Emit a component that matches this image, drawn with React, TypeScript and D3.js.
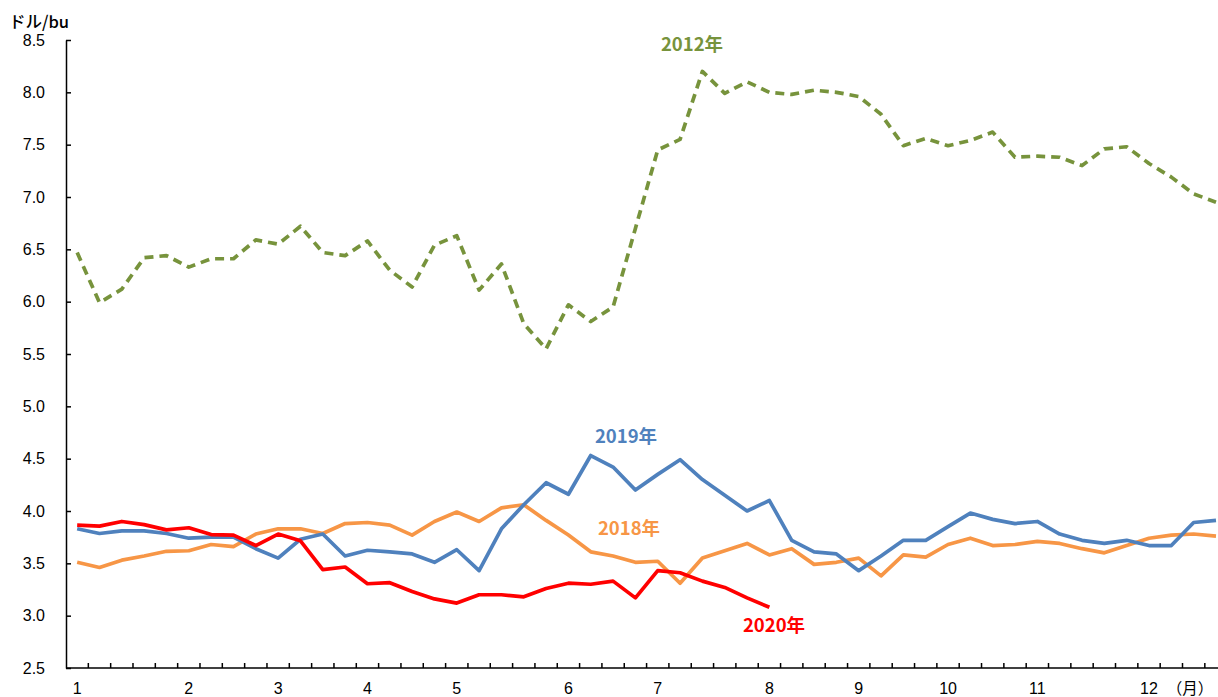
import React, { useRef, useEffect } from 'react'
import * as d3 from 'd3'

// weekly points, Jan..Dec (52 weeks)
const weeks = d3.range(52)

const monthStartWeeks = [0, 5, 9, 13, 17, 22, 26, 31, 35, 39, 43, 48]
const monthLabels = ['1', '2', '3', '4', '5', '6', '7', '8', '9', '10', '11', '12']

const yTicks = [2.5, 3.0, 3.5, 4.0, 4.5, 5.0, 5.5, 6.0, 6.5, 7.0, 7.5, 8.0, 8.5]

const y2012 = [
  6.47, 5.99, 6.12, 6.42, 6.44, 6.33, 6.41, 6.41, 6.59, 6.55, 6.72, 6.47, 6.44,
  6.58, 6.3, 6.14, 6.54, 6.63, 6.11, 6.36, 5.79, 5.55, 5.97, 5.81, 5.95, 6.7,
  7.45, 7.55, 8.2, 7.99, 8.1, 8.0, 7.98, 8.02, 8.0, 7.96, 7.79, 7.49, 7.56, 7.49,
  7.54, 7.62, 7.38, 7.39, 7.38, 7.3, 7.46, 7.48, 7.32, 7.19, 7.03, 6.95,
]

const y2018 = [
  3.51, 3.46, 3.53, 3.57, 3.615, 3.62, 3.68, 3.66, 3.78, 3.83, 3.83, 3.785, 3.88,
  3.89, 3.865, 3.77, 3.9, 3.99, 3.9, 4.03, 4.06, 3.91, 3.77, 3.61, 3.57, 3.51,
  3.52, 3.31, 3.55, 3.62, 3.69, 3.58, 3.64, 3.49, 3.51, 3.55, 3.38, 3.58, 3.56,
  3.68, 3.74, 3.67, 3.68, 3.71, 3.69, 3.64, 3.6, 3.67, 3.74, 3.77, 3.78, 3.76,
]

const y2019 = [
  3.83, 3.785, 3.81, 3.81, 3.785, 3.74, 3.75, 3.75, 3.64, 3.55, 3.73, 3.78, 3.57,
  3.625, 3.61, 3.59, 3.51, 3.63, 3.43, 3.83, 4.06, 4.27, 4.16, 4.53, 4.42, 4.2,
  4.35, 4.49, 4.3, 4.15, 4.0, 4.1, 3.72, 3.61, 3.59, 3.43, 3.57, 3.72, 3.72, 3.85,
  3.98, 3.92, 3.88, 3.9, 3.78, 3.72, 3.69, 3.72, 3.67, 3.67, 3.89, 3.91,
]

const y2020 = [
  3.865, 3.855, 3.9, 3.87, 3.82, 3.84, 3.775, 3.77, 3.67, 3.78, 3.715, 3.44, 3.465,
  3.305, 3.315, 3.23, 3.16, 3.12, 3.2, 3.2, 3.18, 3.26, 3.31, 3.3, 3.33, 3.17,
  3.43, 3.41, 3.33, 3.27, 3.17, 3.08,
]

const seriesList = [
  { name: '2012年', values: y2012, color: '#77933C', dash: '9 6', lx: 692, ly: 51 },
  { name: '2018年', values: y2018, color: '#F79646', dash: null, lx: 629, ly: 535 },
  { name: '2019年', values: y2019, color: '#4F81BD', dash: null, lx: 626, ly: 443 },
  { name: '2020年', values: y2020, color: '#FF0000', dash: null, lx: 774, ly: 632 },
]

const W = 1218
const H = 697
const left = 66
const top = 40
const bottom = 668
const step = 22.33

const App = () => {
  const svgRef = useRef(null)

  useEffect(() => {
    const svg = d3.select(svgRef.current)
    svg.selectAll('*').remove()

    const x = d3
      .scaleBand()
      .domain(weeks.map(String))
      .range([left, left + weeks.length * step])
      .padding(0)

    const y = d3.scaleLinear().domain([2.5, 8.5]).range([bottom, top])
    const cx = (i) => x(String(i)) + x.bandwidth() / 2

    // lines
    const line = d3
      .line()
      .x((d, i) => cx(i))
      .y((d) => y(d))

    seriesList.forEach((s) => {
      svg
        .append('path')
        .datum(s.values)
        .attr('d', line)
        .attr('fill', 'none')
        .attr('stroke', s.color)
        .attr('stroke-width', 3.7)
        .attr('stroke-linejoin', 'round')
        .attr('stroke-dasharray', s.dash)
    })

    // y axis
    const yAxis = svg
      .append('g')
      .attr('transform', `translate(${left},0)`)
      .call(
        d3
          .axisLeft(y)
          .tickValues(yTicks)
          .tickFormat(d3.format('.1f'))
          .tickSizeInner(-5)
          .tickSizeOuter(0)
          .tickPadding(21)
      )
    yAxis.select('.domain').attr('stroke', '#000').attr('stroke-width', 1.5)
    yAxis.selectAll('line').attr('stroke', '#000').attr('stroke-width', 1.5)
    yAxis
      .selectAll('text')
      .attr('font-family', '"Liberation Sans", Arial, sans-serif')
      .attr('font-size', 16)
      .attr('fill', '#000')

    // x axis
    const xAxisG = svg.append('g')
    xAxisG
      .append('line')
      .attr('x1', left)
      .attr('x2', W)
      .attr('y1', bottom)
      .attr('y2', bottom)
      .attr('stroke', '#000')
      .attr('stroke-width', 1.5)
    xAxisG
      .selectAll('line.tick')
      .data(weeks.slice(1))
      .enter()
      .append('line')
      .attr('class', 'tick')
      .attr('x1', (d) => x(String(d)))
      .attr('x2', (d) => x(String(d)))
      .attr('y1', bottom)
      .attr('y2', bottom - 5)
      .attr('stroke', '#000')
      .attr('stroke-width', 1.5)
    xAxisG
      .selectAll('text.month')
      .data(monthStartWeeks)
      .enter()
      .append('text')
      .attr('class', 'month')
      .attr('x', (d) => cx(d))
      .attr('y', 694)
      .attr('text-anchor', 'middle')
      .attr('font-family', '"Liberation Sans", Arial, sans-serif')
      .attr('font-size', 16)
      .text((d, i) => monthLabels[i])
    xAxisG
      .append('text')
      .attr('x', 1190)
      .attr('y', 694)
      .attr('text-anchor', 'middle')
      .attr('font-family', '"Noto Sans CJK JP", sans-serif')
      .attr('font-size', 15.5)
      .text('（月）')

    // unit
    svg
      .append('text')
      .attr('x', 9)
      .attr('y', 28)
      .attr('font-family', '"Noto Sans CJK JP", sans-serif')
      .attr('font-size', 16.5)
      .attr('font-weight', 500)
      .text('ドル/bu')

    // series labels
    seriesList.forEach((s) => {
      svg
        .append('text')
        .attr('x', s.lx)
        .attr('y', s.ly)
        .attr('text-anchor', 'middle')
        .attr('font-family', '"Noto Sans CJK JP", sans-serif')
        .attr('font-weight', 'bold')
        .attr('font-size', 18.5)
        .attr('fill', s.color)
        .text(s.name)
    })
  }, [])

  return (
    <svg
      ref={svgRef}
      width={W}
      height={H}
      style={{ position: 'absolute', left: 0, top: 0, background: '#fff' }}
    />
  )
}

export default App
